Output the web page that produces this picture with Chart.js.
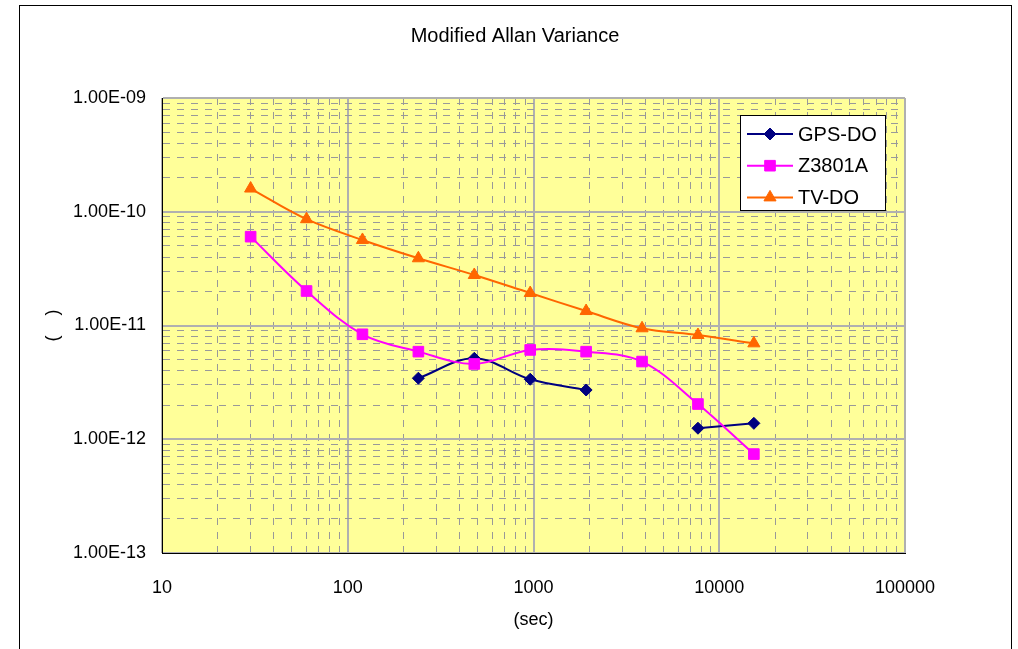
<!DOCTYPE html>
<html>
<head>
<meta charset="utf-8">
<script src="https://cdn.jsdelivr.net/npm/chart.js@4/dist/chart.umd.min.js"></script>
<style>
html, body { margin: 0; padding: 0; background: #fff; }
canvas { display: block; }
</style>
</head>
<body>
<canvas id="mvar-chart" width="1018" height="649"></canvas>
<script>
'use strict'

// averaging time (sec)
const tau = [30, 60, 120, 240, 480, 960, 1920, 3840, 7680, 15360];
const gpsDo = [null, null, null, 3.44e-12, 5.15e-12, 3.37e-12, 2.71e-12, null, 1.25e-12, 1.38e-12];
const z3801a = [6.04e-11, 2.01e-11, 8.37e-12, 5.89e-12, 4.59e-12, 6.1e-12, 5.89e-12, 4.82e-12, 2.04e-12, 7.41e-13];
const tvDo = [1.6e-10, 8.6e-11, 5.65e-11, 3.9e-11, 2.78e-11, 1.93e-11, 1.34e-11, 9.45e-12, 8.25e-12, 6.97e-12];

const xDecades = [10, 100, 1000, 10000, 100000];
const yDecades = [1e-13, 1e-12, 1e-11, 1e-10, 1e-9];

const FONT = 'Arial, "Liberation Sans", sans-serif';
Chart.defaults.font.family = FONT;
Chart.defaults.color = '#000';

const isDecade = v => {
    const l = Math.log10(v);
    return Math.abs(l - Math.round(l)) < 1e-6;
};

// 1..9 x each decade, plus the last decade
function decadeTicks(decades) {
    const ticks = [];
    for (let i = 0; i < decades.length - 1; i++) {
        for (let k = 1; k <= 9; k++) ticks.push({ value: k * decades[i] });
    }
    ticks.push({ value: decades[decades.length - 1] });
    return ticks;
}

const isMinor = c => c.tick && !isDecade(c.tick.value);
const gridDash = c => (isMinor(c) ? [7, 7] : []);
const gridOpts = {
    drawTicks: false,
    color: c => (isMinor(c) ? '#999' : '#b0b0b0'),
    lineWidth: c => (isMinor(c) ? 1 : 2)
};

const toXY = arr => arr.map((y, i) => ({ x: tau[i], y: y }));

const chartFrame = {
    id: 'chartFrame',
    beforeDraw(chart) {
        const { ctx, chartArea: a } = chart;
        ctx.save();
        ctx.fillStyle = '#fff';
        ctx.fillRect(0, 0, chart.width, chart.height);
        ctx.fillStyle = '#ffff99';
        ctx.fillRect(a.left, a.top, a.right - a.left, a.bottom - a.top);
        ctx.restore();
    },
    afterDraw(chart) {
        const ctx = chart.ctx;
        ctx.save();
        // outer frame
        ctx.strokeStyle = '#000';
        ctx.lineWidth = 1;
        ctx.strokeRect(19.5, 5.5, 992, 700);

        // title
        ctx.fillStyle = '#000';
        ctx.font = '20px ' + FONT;
        ctx.textAlign = 'center';
        ctx.textBaseline = 'middle';
        ctx.fillText('Modified Allan Variance', 515, 36);

        // legend
        ctx.fillStyle = '#fff';
        ctx.fillRect(740.5, 115.5, 145, 95);
        ctx.strokeRect(740.5, 115.5, 145, 95);
        ctx.textAlign = 'left';
        chart.data.datasets.forEach((ds, i) => {
            const y = 134 + i * 31.7;
            ctx.strokeStyle = ds.borderColor;
            ctx.lineWidth = 2;
            ctx.beginPath();
            ctx.moveTo(747, y);
            ctx.lineTo(793, y);
            ctx.stroke();
            ctx.fillStyle = ds.pointBackgroundColor;
            ctx.strokeStyle = ds.pointBorderColor;
            ctx.lineWidth = 1;
            Chart.helpers.drawPoint(ctx, {
                pointStyle: ds.pointStyle,
                radius: ds.pointRadius,
                rotation: 0,
                borderWidth: 1
            }, 770, y);
            ctx.fillStyle = '#000';
            ctx.fillText(ds.label, 798, y + 1);
        });
        ctx.restore();
    }
};

const ctx = document.getElementById('mvar-chart').getContext('2d');
const mvarChart = new Chart(ctx, {
    type: 'line',
    data: {
        datasets: [
            {
                label: 'GPS-DO',
                data: toXY(gpsDo),
                borderColor: '#000080',
                pointBackgroundColor: '#000080',
                pointBorderColor: '#000080',
                pointStyle: 'rectRot',
                pointRadius: 6,
                order: 1
            },
            {
                label: 'Z3801A',
                data: toXY(z3801a),
                borderColor: '#ff00ff',
                pointBackgroundColor: '#ff00ff',
                pointBorderColor: '#ff00ff',
                pointStyle: 'rect',
                pointRadius: 7.5
            },
            {
                label: 'TV-DO',
                data: toXY(tvDo),
                borderColor: '#ff6600',
                pointBackgroundColor: '#ff6600',
                pointBorderColor: '#ff6600',
                pointStyle: 'triangle',
                pointRadius: 7
            }
        ]
    },
    options: {
        responsive: false,
        animation: false,
        devicePixelRatio: 1,
        layout: { padding: { top: 98, right: 113, left: 0, bottom: 0 } },
        elements: {
            line: { borderWidth: 2, tension: 0.35, fill: false },
            point: { borderWidth: 1 }
        },
        plugins: {
            legend: { display: false },
            tooltip: { enabled: false }
        },
        scales: {
            x: {
                type: 'logarithmic',
                min: 10,
                max: 100000,
                afterBuildTicks: s => { s.ticks = decadeTicks(xDecades); },
                afterFit: s => { s.height = 96; },
                ticks: {
                    autoSkip: false,
                    maxRotation: 0,
                    padding: 24,
                    font: { size: 18 },
                    callback: v => (isDecade(v) ? String(Math.round(v)) : '')
                },
                grid: gridOpts,
                border: { color: '#000', width: 1, dash: gridDash },
                title: {
                    display: true,
                    text: '(sec)',
                    font: { size: 18 },
                    padding: { top: 0, bottom: 18 }
                }
            },
            y: {
                type: 'logarithmic',
                min: 1e-13,
                max: 1e-9,
                afterBuildTicks: s => { s.ticks = decadeTicks(yDecades); },
                afterFit: s => { s.width = 162; },
                ticks: {
                    autoSkip: false,
                    padding: 16,
                    font: { size: 18 },
                    callback: v => {
                        if (!isDecade(v)) return '';
                        const e = Math.round(Math.log10(v));
                        return '1.00E' + (e < 0 ? '-' : '+') + String(Math.abs(e)).padStart(2, '0');
                    }
                },
                grid: gridOpts,
                border: { color: '#000', width: 1, dash: gridDash },
                title: {
                    display: true,
                    text: '(    )',
                    font: { size: 18 },
                    padding: { top: 42, bottom: 0 }
                }
            }
        }
    },
    plugins: [chartFrame]
});
</script>
</body>
</html>
